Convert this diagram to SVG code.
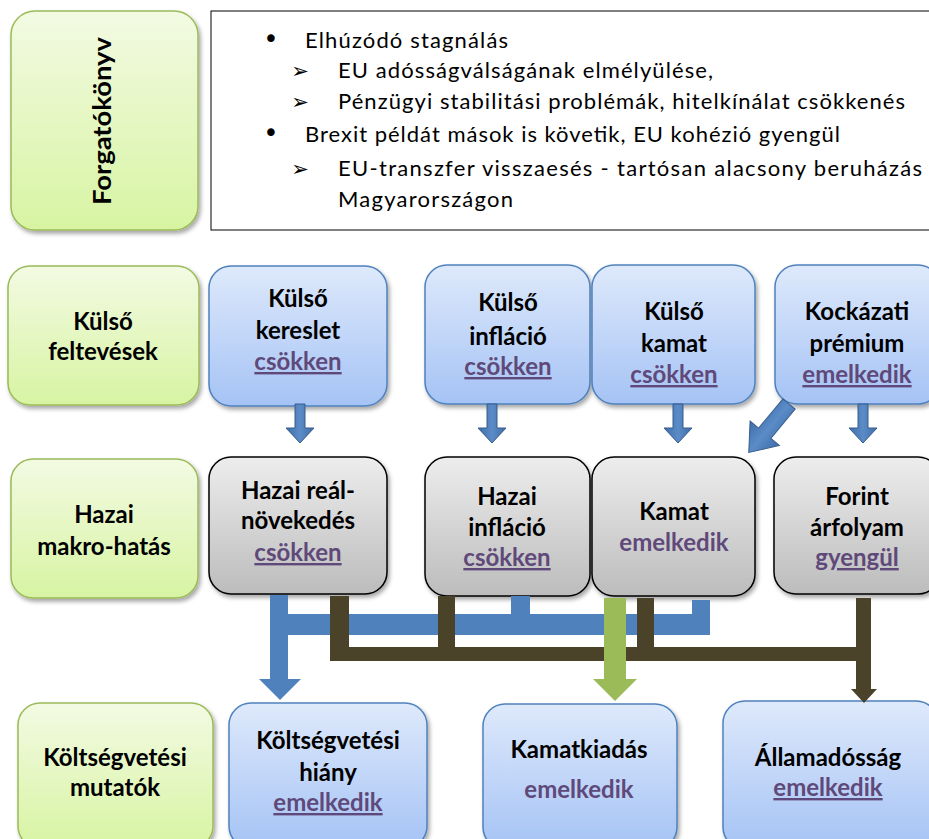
<svg xmlns="http://www.w3.org/2000/svg" width="929" height="839" viewBox="0 0 929 839">
<defs>
  <linearGradient id="gGreen" x1="0" y1="0" x2="0" y2="1">
    <stop offset="0" stop-color="#F3FAE3"/>
    <stop offset="1" stop-color="#D7F4A2"/>
  </linearGradient>
  <linearGradient id="gBlue" x1="0" y1="0" x2="0" y2="1">
    <stop offset="0" stop-color="#DEE9FB"/>
    <stop offset="1" stop-color="#A5C3F5"/>
  </linearGradient>
  <linearGradient id="gGray" x1="0" y1="0" x2="0" y2="1">
    <stop offset="0" stop-color="#EDEDED"/>
    <stop offset="1" stop-color="#BCBCBC"/>
  </linearGradient>
  <linearGradient id="gArrow" x1="0" y1="0" x2="1" y2="0">
    <stop offset="0" stop-color="#3F6EA8"/>
    <stop offset="0.5" stop-color="#5B8CC8"/>
    <stop offset="1" stop-color="#3F6EA8"/>
  </linearGradient>
  <filter id="sh" x="-10%" y="-10%" width="130%" height="130%">
    <feDropShadow dx="2" dy="3" stdDeviation="2" flood-color="#000" flood-opacity="0.35"/>
  </filter>
  <style>
    .green{fill:url(#gGreen);stroke:#9BBB59;stroke-width:1.5;filter:url(#sh)}
    .blue{fill:url(#gBlue);stroke:#4F81BD;stroke-width:1.5;filter:url(#sh)}
    .gray{fill:url(#gGray);stroke:#000;stroke-width:1.5;filter:url(#sh)}
    .t{font-family:Lato,"Liberation Sans",sans-serif;font-weight:bold;font-size:24px;fill:#000;text-anchor:middle}
    .p{fill:#5F497A}
    .u{text-decoration:underline}
    .b{font-family:Lato,"Liberation Sans",sans-serif;font-size:22px;fill:#000}
    .dot{font-family:"DejaVu Sans",sans-serif;font-size:26px;fill:#000;text-anchor:middle}
    .sym{font-family:"DejaVu Sans",sans-serif;font-size:21px;fill:#000;text-anchor:middle}
    .arr{fill:url(#gArrow);stroke:#385D8A;stroke-width:1}
    .cb{fill:#4F81BD}
    .cd{fill:#4A4229}
    .cg{fill:#9BBB59}
  </style>
</defs>

<g id="forgatokonyv">
  <rect class="green" x="11" y="11" width="187" height="219" rx="24"/>
  <text class="t" transform="translate(111,121) rotate(-90)" textLength="168" lengthAdjust="spacingAndGlyphs">Forgatókönyv</text>
</g>

<g id="szcenario">
  <rect x="211" y="11" width="730" height="219" fill="#fff" stroke="#000" stroke-width="1"/>
  <text class="dot" x="271" y="48">•</text>
  <text class="b" x="305" y="48" textLength="203">Elhúzódó stagnálás</text>
  <text class="sym" x="300" y="78">➢</text>
  <text class="b" x="338" y="78" textLength="375">EU adósságválságának elmélyülése,</text>
  <text class="sym" x="300" y="109">➢</text>
  <text class="b" x="338" y="109" textLength="567">Pénzügyi stabilitási problémák, hitelkínálat csökkenés</text>
  <text class="dot" x="271" y="142">•</text>
  <text class="b" x="305" y="142" textLength="535">Brexit példát mások is követik, EU kohézió gyengül</text>
  <text class="sym" x="300" y="176">➢</text>
  <text class="b" x="338" y="176" textLength="584">EU-transzfer visszaesés - tartósan alacsony beruházás</text>
  <text class="b" x="338" y="207" textLength="175">Magyarországon</text>
</g>

<g id="kulso-feltevesek">
  <rect class="green" x="8" y="266" width="191" height="139" rx="22"/>
  <text class="t" x="103" y="330">Külső</text>
  <text class="t" x="103" y="360">feltevések</text>
</g>

<g id="kulso-kereslet">
  <rect class="blue" x="209" y="266" width="178" height="140" rx="22"/>
  <text class="t" x="298" y="307">Külső</text>
  <text class="t" x="298" y="339">kereslet</text>
  <text class="t p u" x="298" y="370">csökken</text>
</g>

<g id="kulso-inflacio">
  <rect class="blue" x="425" y="265" width="165" height="139" rx="22"/>
  <text class="t" x="508" y="311">Külső</text>
  <text class="t" x="508" y="345">infláció</text>
  <text class="t p u" x="508" y="375">csökken</text>
</g>

<g id="kulso-kamat">
  <rect class="blue" x="592" y="265" width="163" height="139" rx="22"/>
  <text class="t" x="674" y="320">Külső</text>
  <text class="t" x="674" y="352">kamat</text>
  <text class="t p u" x="674" y="383">csökken</text>
</g>

<g id="kockazati-premium">
  <rect class="blue" x="775" y="265" width="165" height="139" rx="22"/>
  <text class="t" x="857" y="320">Kockázati</text>
  <text class="t" x="857" y="352">prémium</text>
  <text class="t p u" x="857" y="383">emelkedik</text>
</g>

<g id="hazai-makro">
  <rect class="green" x="11" y="459" width="187" height="139" rx="22"/>
  <text class="t" x="104" y="523">Hazai</text>
  <text class="t" x="104" y="555">makro-hatás</text>
</g>

<g id="hazai-real">
  <rect class="gray" x="209" y="457" width="178" height="137" rx="22"/>
  <text class="t" x="298" y="499">Hazai reál-</text>
  <text class="t" x="298" y="529">növekedés</text>
  <text class="t p u" x="298" y="561">csökken</text>
</g>

<g id="hazai-inflacio">
  <rect class="gray" x="425" y="457" width="165" height="139" rx="22"/>
  <text class="t" x="507" y="505">Hazai</text>
  <text class="t" x="507" y="536">infláció</text>
  <text class="t p u" x="507" y="566">csökken</text>
</g>

<g id="kamat">
  <rect class="gray" x="592" y="457" width="163" height="139" rx="22"/>
  <text class="t" x="674" y="520">Kamat</text>
  <text class="t p" x="674" y="551">emelkedik</text>
</g>

<g id="forint">
  <rect class="gray" x="774" y="457" width="166" height="137" rx="22"/>
  <text class="t" x="857" y="505">Forint</text>
  <text class="t" x="857" y="536">árfolyam</text>
  <text class="t p u" x="857" y="566">gyengül</text>
</g>

<g id="koltsegvetesi-mutatok">
  <rect class="green" x="18" y="703" width="195" height="145" rx="22"/>
  <text class="t" x="115" y="766">Költségvetési</text>
  <text class="t" x="115" y="796">mutatók</text>
</g>

<g id="koltsegvetesi-hiany">
  <rect class="blue" x="229" y="703" width="198" height="145" rx="22"/>
  <text class="t" x="328" y="749">Költségvetési</text>
  <text class="t" x="328" y="781">hiány</text>
  <text class="t p u" x="328" y="811">emelkedik</text>
</g>

<g id="kamatkiadas">
  <rect class="blue" x="483" y="704" width="194" height="145" rx="22"/>
  <text class="t" x="579" y="758">Kamatkiadás</text>
  <text class="t p" x="579" y="798">emelkedik</text>
</g>

<g id="allamadossag">
  <rect class="blue" x="723" y="701" width="215" height="148" rx="22"/>
  <text class="t" x="828" y="766">Államadósság</text>
  <text class="t p u" x="828" y="796">emelkedik</text>
</g>

<g id="connectors">
  <polygon class="arr" points="295,404 305,404 305,428 314,428 300,443 286,428 295,428"/>
  <polygon class="arr" points="487,404 497,404 497,428 506,428 492,443 478,428 487,428"/>
  <polygon class="arr" points="673,404 683,404 683,428 692,428 678,443 664,428 673,428"/>
  <polygon class="arr" points="858,404 868,404 868,428 877,428 863,443 849,428 858,428"/>
  <polygon class="arr" transform="translate(789,404) rotate(39.7)" points="-8,0 8,0 8,38 19,38 0,63 -19,38 -8,38"/>

  <rect class="cb" x="270" y="595" width="18" height="85"/>
  <polygon class="cb" points="259,679 301,679 280,700"/>
  <rect class="cb" x="270" y="614" width="440" height="21"/>
  <rect class="cb" x="511" y="596" width="19" height="19"/>
  <rect class="cb" x="692" y="600" width="18" height="15"/>

  <rect class="cd" x="330" y="596" width="19" height="65"/>
  <rect class="cd" x="330" y="647" width="541" height="14"/>
  <rect class="cd" x="438" y="596" width="17" height="52"/>
  <rect class="cd" x="637" y="598" width="17" height="54"/>
  <rect class="cd" x="856" y="598" width="15" height="92"/>
  <polygon class="cd" points="851,689 877,689 864,703"/>

  <rect class="cg" x="604" y="598" width="22" height="82"/>
  <polygon class="cg" points="593,679 637,679 615,701"/>
</g>
</svg>
